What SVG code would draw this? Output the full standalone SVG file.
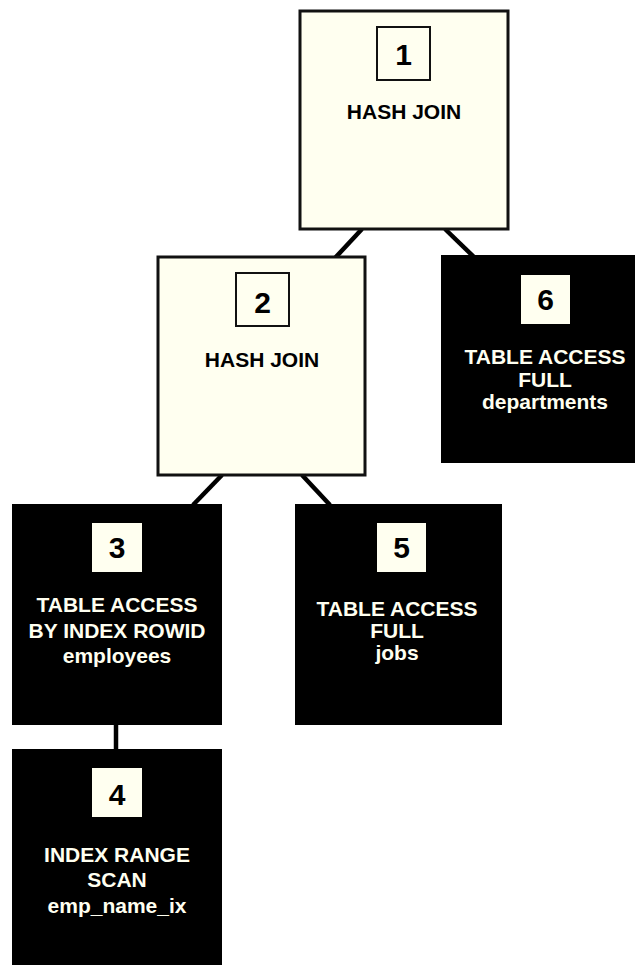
<svg xmlns="http://www.w3.org/2000/svg" width="638" height="965" viewBox="0 0 638 965">
<style>
.lt{fill:#fffff0;stroke:#111;stroke-width:3}
.dk{fill:#000}
.nb{fill:#fffff0;stroke:#111;stroke-width:2}
.nd{fill:#fffff0}
.num{font-family:"Liberation Sans",Arial,sans-serif;font-weight:bold;font-size:30px;text-anchor:middle;fill:#000}
.t{font-family:"Liberation Sans",Arial,sans-serif;font-weight:bold;font-size:21px;text-anchor:middle}
.tb{fill:#000}
.tw{fill:#fffff0}
.c{stroke:#000;stroke-width:4.5;fill:none}
</style>
<rect width="638" height="965" fill="#fff"/>
<g id="connectors">
<line class="c" x1="362" y1="229" x2="335" y2="258"/>
<line class="c" x1="445" y1="229" x2="475" y2="258"/>
<line class="c" x1="222" y1="475" x2="193" y2="505"/>
<line class="c" x1="302" y1="475" x2="330" y2="505"/>
<line class="c" x1="116" y1="725" x2="116" y2="750"/>
</g>
<g id="node1">
<rect class="lt" x="300" y="11" width="208" height="218"/>
<rect class="nb" x="377" y="27" width="53" height="53"/>
<text class="num" x="403.5" y="65">1</text>
<text class="t tb" x="404" y="119">HASH JOIN</text>
</g>
<g id="node2">
<rect class="lt" x="158" y="257" width="207" height="218"/>
<rect class="nb" x="236" y="273" width="53" height="53"/>
<text class="num" x="262.5" y="313">2</text>
<text class="t tb" x="262" y="367">HASH JOIN</text>
</g>
<g id="node6">
<rect class="dk" x="441" y="255" width="194" height="208"/>
<rect class="nd" x="521" y="275" width="49" height="49"/>
<text class="num" x="545.5" y="310">6</text>
<text class="t tw" x="545" y="364">TABLE ACCESS</text>
<text class="t tw" x="545" y="387">FULL</text>
<text class="t tw" x="545" y="409">departments</text>
</g>
<g id="node3">
<rect class="dk" x="12" y="504" width="210" height="221"/>
<rect class="nd" x="92" y="523" width="50" height="49"/>
<text class="num" x="117" y="558">3</text>
<text class="t tw" x="117" y="612">TABLE ACCESS</text>
<text class="t tw" x="117" y="638">BY INDEX ROWID</text>
<text class="t tw" x="117" y="663">employees</text>
</g>
<g id="node5">
<rect class="dk" x="295" y="504" width="207" height="221"/>
<rect class="nd" x="377" y="523" width="49" height="49"/>
<text class="num" x="401.5" y="558">5</text>
<text class="t tw" x="397" y="616">TABLE ACCESS</text>
<text class="t tw" x="397" y="638">FULL</text>
<text class="t tw" x="397" y="660">jobs</text>
</g>
<g id="node4">
<rect class="dk" x="12" y="749" width="210" height="216"/>
<rect class="nd" x="92" y="768" width="50" height="49"/>
<text class="num" x="117" y="805">4</text>
<text class="t tw" x="117" y="862">INDEX RANGE</text>
<text class="t tw" x="117" y="887">SCAN</text>
<text class="t tw" x="117" y="913">emp_name_ix</text>
</g>
</svg>
